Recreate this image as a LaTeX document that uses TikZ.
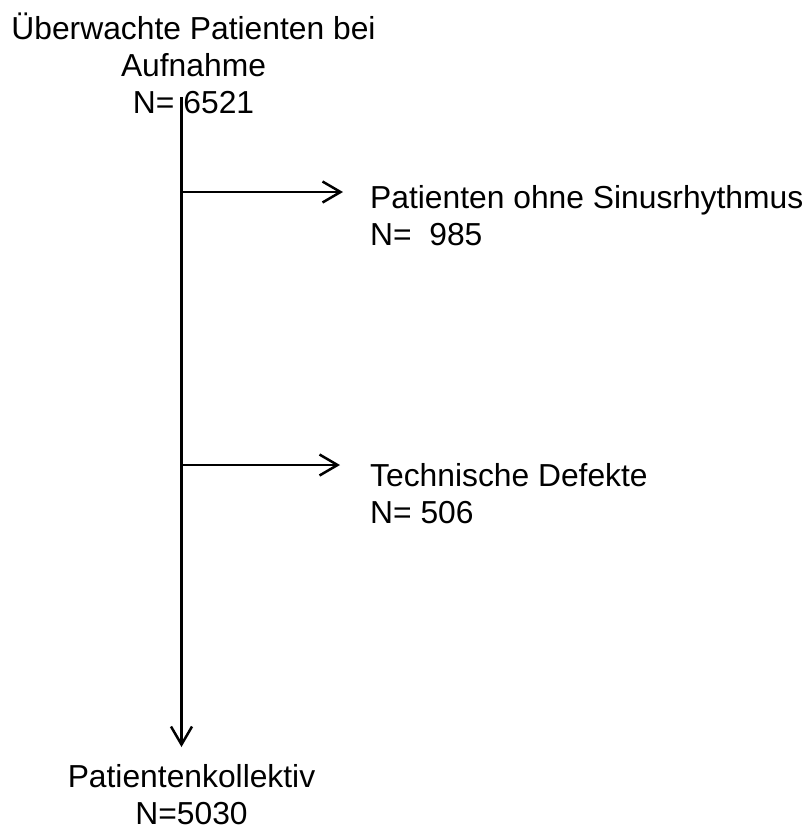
\documentclass[tikz,border=0pt]{standalone}
\usepackage{fontspec}
\setmainfont{Liberation Sans}
\usetikzlibrary{arrows.meta}
\begin{document}
\begin{tikzpicture}[x=1pt,y=-1pt,
    label/.style={font=\fontsize{31.8}{36.8}\selectfont,inner sep=0pt},
    flow/.style={line width=2.5pt,-{Straight Barb[length=18pt,width=21pt,line width=2.5pt]}}]
    \useasboundingbox (0,0) rectangle (807,830);
    %% text blocks (anchored at the last baseline)
    \node[label,align=center,anchor=base] (admit) at (193.5,113)
        {Überwachte Patienten bei\\Aufnahme\\N=\kern9pt6521};
    \node[label,align=left,anchor=base west] (sinus) at (370,245)
        {Patienten ohne Sinusrhythmus\\N=\ \ 985};
    \node[label,align=left,anchor=base west] (defect) at (370,523)
        {Technische Defekte\\N= 506};
    \node[label,align=center,anchor=base] (cohort) at (191.5,824)
        {Patientenkollektiv\\N=5030};
    %% main line
    \coordinate (top) at (181.5,97);
    \coordinate (bottom) at (181.5,747);
    \draw[flow] (top) -- (bottom);
    %% exclusions
    \coordinate (out1) at (181.5,192);
    \coordinate (out2) at (181.5,465);
    \draw[flow] (out1) -- (343,192);
    \draw[flow] (out2) -- (340,465);
\end{tikzpicture}
\end{document}
